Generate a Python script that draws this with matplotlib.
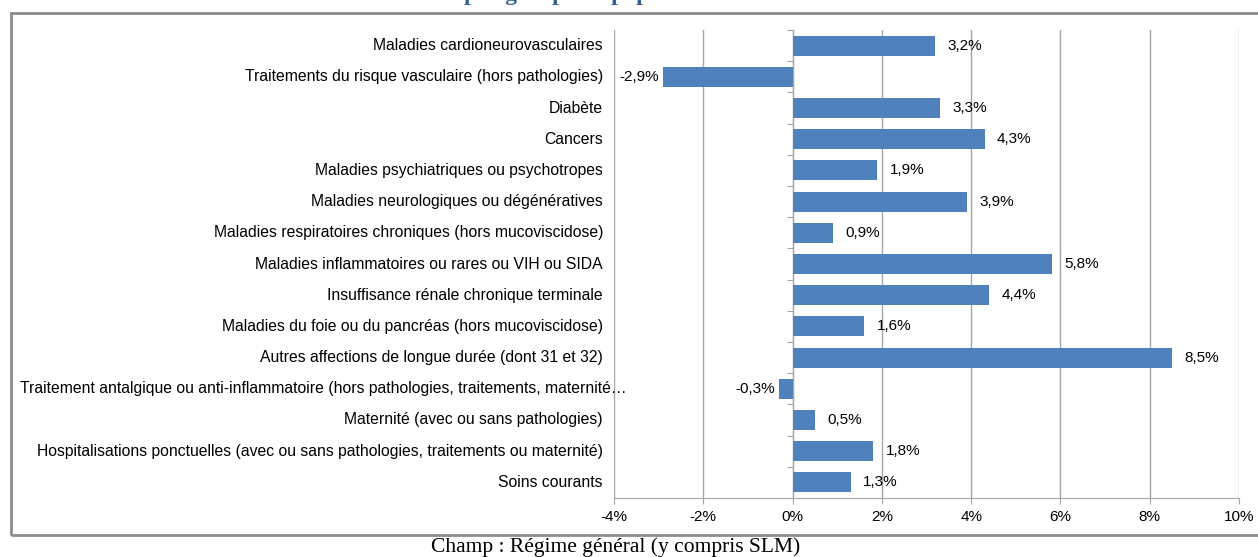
import matplotlib.pyplot as plt
import matplotlib.transforms as mtransforms
from matplotlib.patches import Rectangle

plt.rcParams['font.family'] = ['Liberation Sans', 'DejaVu Sans']

# Data (top to bottom as displayed)
categories = [
    "Maladies cardioneurovasculaires",
    "Traitements du risque vasculaire (hors pathologies)",
    "Diabète",
    "Cancers",
    "Maladies psychiatriques ou psychotropes",
    "Maladies neurologiques ou dégénératives",
    "Maladies respiratoires chroniques (hors mucoviscidose)",
    "Maladies inflammatoires ou rares ou VIH ou SIDA",
    "Insuffisance rénale chronique terminale",
    "Maladies du foie ou du pancréas (hors mucoviscidose)",
    "Autres affections de longue durée (dont 31 et 32)",
    "Traitement antalgique ou anti-inflammatoire (hors pathologies, traitements, maternité…",
    "Maternité (avec ou sans pathologies)",
    "Hospitalisations ponctuelles (avec ou sans pathologies, traitements ou maternité)",
    "Soins courants",
]
values = [3.2, -2.9, 3.3, 4.3, 1.9, 3.9, 0.9, 5.8, 4.4, 1.6, 8.5, -0.3, 0.5, 1.8, 1.3]
xticks = [-4, -2, 0, 2, 4, 6, 8, 10]

bar_color = "#4F81BD"
grey = "#A6A6A6"
fs = 11
fs_cat = 11.3

fig = plt.figure(figsize=(12.58, 5.57), dpi=100)
ax = fig.add_axes([0.488, 0.106, 0.497, 0.840])

y = list(range(len(categories)))
ax.barh(y, values, height=0.64, color=bar_color, zorder=3)

ax.set_xlim(-4, 10)
ax.set_ylim(len(categories) - 0.5, -0.5)

ax.set_xticks(xticks)
ax.set_xticklabels([f"{t}%" for t in xticks], fontsize=fs)
ax.tick_params(axis='x', length=4, color=grey, pad=5)
ax.grid(axis='x', color=grey, linewidth=1, zorder=0)

# y axis drawn at zero with small separator ticks
ax.spines['left'].set_position(('data', 0))
ax.spines['left'].set_color(grey)
ax.spines['bottom'].set_color(grey)
ax.spines['top'].set_visible(False)
ax.spines['right'].set_visible(False)
ax.set_yticks([i - 0.5 for i in range(len(categories) + 1)])
ax.set_yticklabels([])
ax.tick_params(axis='y', length=4, color=grey)

# category labels
trans = mtransforms.blended_transform_factory(ax.transAxes, ax.transData)
for i, cat in enumerate(categories):
    if cat.endswith("…"):
        ax.text(-0.950, i, cat, transform=trans, ha='left', va='center', fontsize=fs_cat)
    else:
        ax.text(-0.0176, i, cat, transform=trans, ha='right', va='center', fontsize=fs_cat)

# value labels
for i, v in enumerate(values):
    txt = f"{v:.1f}%".replace(".", ",")
    if v >= 0:
        ax.annotate(txt, (v, i), xytext=(9, 0), textcoords='offset points',
                    ha='left', va='center', fontsize=fs)
    else:
        ax.annotate(txt, (v, i), xytext=(-3, 0), textcoords='offset points',
                    ha='right', va='center', fontsize=fs)

# chart frame
fig.patches.append(Rectangle((11 / 1258, 1 - 535 / 557), 1.0, (535 - 13) / 557,
                             transform=fig.transFigure, fill=False,
                             edgecolor="#8C8C8C", linewidth=2))

# cut-off title and caption
fig.text(464 / 1258, 1.0, "par groupe de population", ha='left', va='baseline',
         fontsize=17, fontweight='bold', color="#365F91", family='Liberation Serif')
fig.text(616 / 1258, 1 - 547 / 557, "Champ : Régime général (y compris SLM)",
         ha='center', va='center', fontsize=15.5, family='Liberation Serif')

fig.savefig("out.png", dpi=100)
